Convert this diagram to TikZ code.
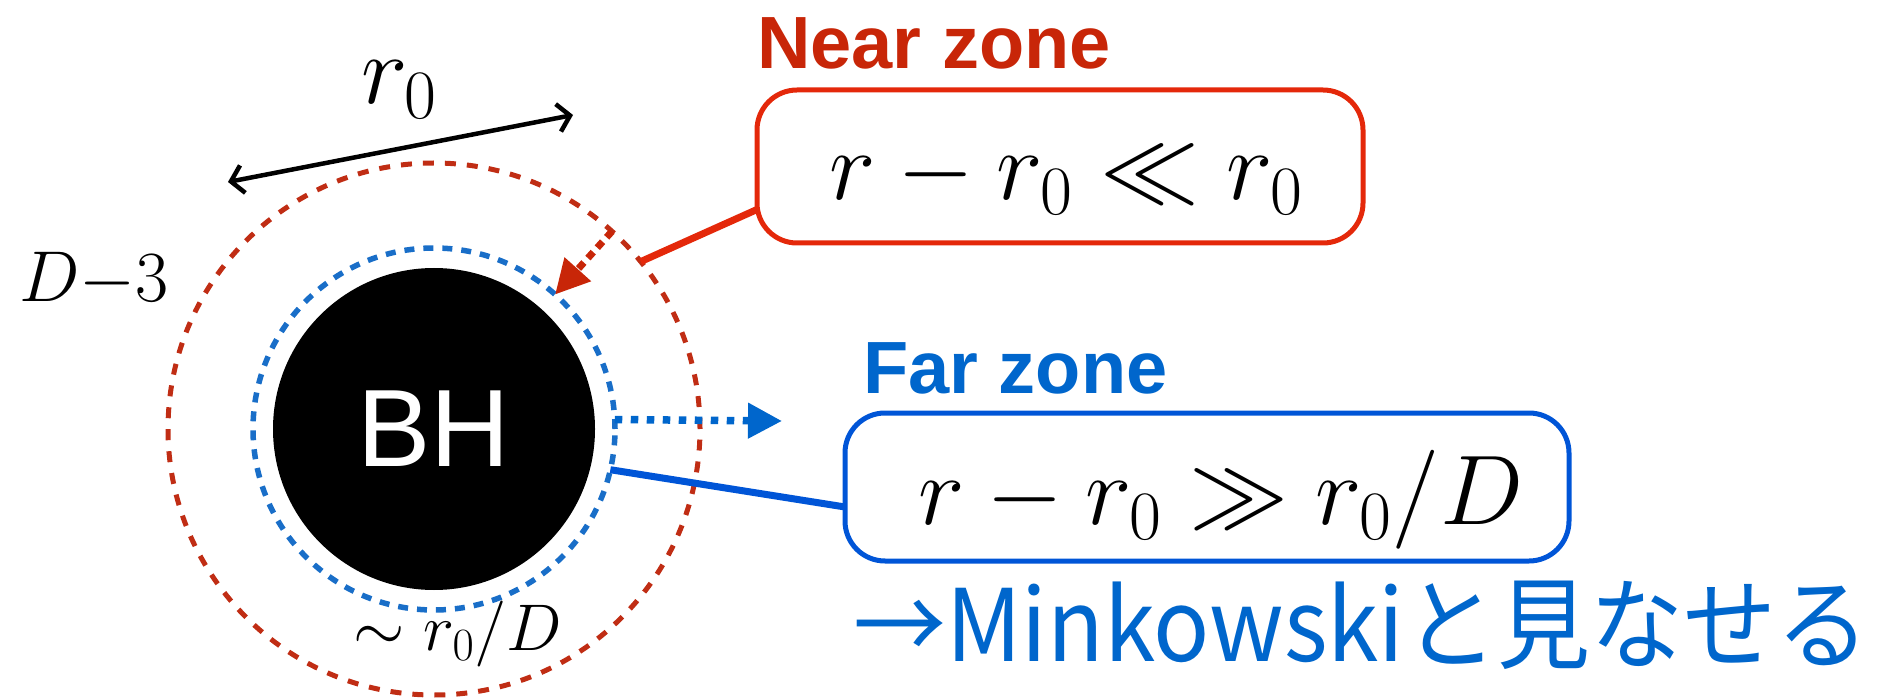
\RequirePackage{fix-cm}
\documentclass[tikz,border=0pt]{standalone}
\usepackage[no-math]{fontspec}
\newfontfamily\helv{Liberation Sans}
\newfontfamily\cjkfont{Noto Sans CJK JP}
\usetikzlibrary{arrows.meta}
\definecolor{nearred}{RGB}{200,38,8}
\definecolor{boxred}{RGB}{228,40,10}
\definecolor{circred}{RGB}{192,45,20}
\definecolor{farblue}{RGB}{0,102,204}
\definecolor{boxblue}{RGB}{0,85,215}
\definecolor{circblue}{RGB}{25,110,200}
\begin{document}
\begin{tikzpicture}[x=1pt,y=-1pt,
  zonebox/.style={draw, rounded corners=40pt, line width=5pt, inner sep=0pt, outer sep=0pt},
  zonetitle/.style={font=\helv\bfseries\fontsize{74}{82}\selectfont, anchor=base west, inner sep=0pt},
  formula/.style={font=\fontsize{99}{110}\selectfont, inner sep=0pt},
  ring/.style={circle, draw, line width=5pt, dash pattern=on 11pt off 11pt, inner sep=0pt, outer sep=0pt},
  thickline/.style={line width=7pt},
  tri/.style={-{Triangle[length=34pt,width=34pt]}}]
\useasboundingbox (0,0) rectangle (1879,700);
% black hole and zones
\node[circle, fill=black, minimum size=322pt, inner sep=0pt, outer sep=0pt, text=white,
      font=\helv\fontsize{110}{120}\selectfont] (bh) at (434,429) {BH};
\node[ring, draw=circblue, line width=5.5pt, dash pattern=on 10pt off 9pt, minimum size=362pt] (farring) at (bh.center) {};
\node[ring, draw=circred, minimum size=532pt] (nearring) at (bh.center) {};
% boxes
\node[zonebox, draw=boxred, minimum width=606pt, minimum height=153pt] (nbox) at (1060,166.5) {};
\node[formula] (nform) at (1066,178) {$r-r_0\ll r_0$};
\node[zonebox, draw=boxblue, minimum width=724pt, minimum height=148pt] (fbox) at (1207,487) {};
\node[formula] (fform) at (1221,500) {$r-r_0\gg r_0/D$};
% titles
\node[zonetitle, text=nearred] (neart) at (757,69) {Near zone};
\node[zonetitle, text=farblue] (fart) at (863,393) {Far zone};
% connectors
\draw[boxred, thickline] ([yshift=-43pt]nbox.west) -- (nearring.39);
\draw[nearred, line width=7pt, dash pattern=on 8pt off 6pt, tri] (nearring.48) -- (farring.48);
\coordinate (fartip) at (782,421);
\draw[farblue, line width=7.5pt, dash pattern=on 7.5pt off 8.5pt, tri] (farring.3) -- (fartip);
\draw[boxblue, thickline] (farring.-13) -- ([yshift=-20pt]fbox.west);
% r0 arrow
\coordinate (ra) at (228,182);
\coordinate (rb) at (573,115);
\draw[line width=4.5pt, {Straight Barb[length=12pt,width=28pt]}-{Straight Barb[length=12pt,width=28pt]}] (ra) -- (rb);
\node[formula] (r0) at (399,90) {$r_0$};
\node[font=\fontsize{72}{82}\selectfont, inner sep=0pt] (dlbl) at (94,280) {$D{-}3$};
\node[font=\fontsize{66}{76}\selectfont, inner sep=0pt] (simlbl) at (458,634) {$\sim r_0/D$};
% Minkowski
\node[anchor=base west, inner sep=0pt, text=farblue, font=\cjkfont\fontsize{100}{110}\selectfont] (mink) at (853,661) {\scalebox{0.93}[1]{→Minkowskiと見なせる}};
\end{tikzpicture}
\end{document}
